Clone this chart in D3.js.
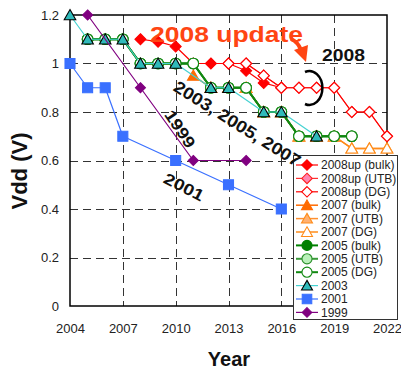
<!DOCTYPE html>
<html>
<head>
<meta charset="utf-8">
<script src="https://cdn.jsdelivr.net/npm/d3@7"></script>
<style>
  body { margin: 0; background: #fff; }
  svg { display: block; font-family: Arial, "Liberation Sans", sans-serif; }
</style>
</head>
<body>
<svg id="chart" width="401" height="372"></svg>
<script>
// Axis ticks
const xTicks = [2004, 2007, 2010, 2013, 2016, 2019, 2022];
const yTicks = [0, 0.2, 0.4, 0.6, 0.8, 1, 1.2];
const yTickLabels = ["0", "0.2", "0.4", "0.6", "0.8", "1", "1.2"];

// 2008 update
const years2008upBulk = [2008, 2009, 2010, 2011, 2012, 2013, 2014, 2015, 2016];
const vdd2008upBulk   = [1.1, 1.09, 1.07, 1.0, 1.0, 1.0, 0.97, 0.92, 0.9];
const years2008upUTB  = [2013, 2014, 2015, 2016, 2017, 2018, 2019, 2020, 2021, 2022];
const vdd2008upUTB    = [1.0, 1.0, 0.95, 0.9, 0.9, 0.9, 0.9, 0.8, 0.8, 0.7];
const years2008upDG   = [2013, 2014, 2015, 2016, 2017, 2018, 2019, 2020, 2021, 2022];
const vdd2008upDG     = [1.0, 1.0, 0.95, 0.9, 0.9, 0.9, 0.9, 0.8, 0.8, 0.7];

// 2007 roadmap
const years2007Bulk = [2011, 2012, 2013, 2014, 2015, 2016, 2017, 2018, 2019];
const vdd2007Bulk   = [0.95, 0.9, 0.9, 0.9, 0.8, 0.8, 0.7, 0.7, 0.7];
const years2007UTB  = [2012, 2013, 2014, 2015, 2016, 2017, 2018, 2019, 2020, 2021, 2022];
const vdd2007UTB    = [0.9, 0.9, 0.9, 0.8, 0.8, 0.7, 0.7, 0.7, 0.65, 0.65, 0.65];
const years2007DG   = [2012, 2013, 2014, 2015, 2016, 2017, 2018, 2019, 2020, 2021, 2022];
const vdd2007DG     = [0.9, 0.9, 0.9, 0.8, 0.8, 0.7, 0.7, 0.7, 0.65, 0.65, 0.65];

// 2005 roadmap
const years2005 = [2005, 2006, 2007, 2008, 2009, 2010, 2011, 2012, 2013, 2014, 2015, 2016, 2017, 2018, 2019, 2020];
const vdd2005Bulk = [1.1, 1.1, 1.1, 1.0, 1.0, 1.0, 1.0, 0.9, 0.9, 0.9, 0.8, 0.8, 0.7, 0.7, 0.7, 0.7];
const vdd2005UTB  = [1.1, 1.1, 1.1, 1.0, 1.0, 1.0, 1.0, 0.9, 0.9, 0.9, 0.8, 0.8, 0.7, 0.7, 0.7, 0.7];
const vdd2005DG   = [1.1, 1.1, 1.1, 1.0, 1.0, 1.0, 1.0, 0.9, 0.9, 0.9, 0.8, 0.8, 0.7, 0.7, 0.7, 0.7];

// 2003, 2001, 1999 roadmaps
const years2003 = [2004, 2005, 2006, 2007, 2008, 2009, 2010, 2012, 2013, 2015, 2016, 2018];
const vdd2003   = [1.2, 1.1, 1.1, 1.1, 1.0, 1.0, 1.0, 0.9, 0.9, 0.8, 0.8, 0.7];
const years2001 = [2004, 2005, 2006, 2007, 2010, 2013, 2016];
const vdd2001   = [1.0, 0.9, 0.9, 0.7, 0.6, 0.5, 0.4];
const years1999 = [2005, 2008, 2011, 2014];
const vdd1999   = [1.2, 0.9, 0.6, 0.6];

const zip = (xs, ys) => xs.map((x, i) => [x, ys[i]]);

// Drawing order follows the legend: later series sit on top
const series = [
  { name: "2008up (bulk)", data: zip(years2008upBulk, vdd2008upBulk), line: "#ff0000", lw: 1.2, shape: "diamond", fill: "#ff0000", stroke: "#ff0000", size: 5.5 },
  { name: "2008up (UTB)",  data: zip(years2008upUTB, vdd2008upUTB),   line: "#ff3030", lw: 1.2, shape: "diamond", fill: "#ff85b0", stroke: "#ff2020", size: 5.5 },
  { name: "2008up (DG)",   data: zip(years2008upDG, vdd2008upDG),     line: "#ff0000", lw: 1.2, shape: "diamond", fill: "#ffffff", stroke: "#ff0000", size: 5.5 },
  { name: "2007 (bulk)",   data: zip(years2007Bulk, vdd2007Bulk),     line: "#ff6a00", lw: 1.5, shape: "triangle", fill: "#ff6a00", stroke: "#ff6a00", size: 5.5 },
  { name: "2007 (UTB)",    data: zip(years2007UTB, vdd2007UTB),       line: "#ff9030", lw: 1.5, shape: "triangle", fill: "#ffb070", stroke: "#ff8c1a", size: 5.5 },
  { name: "2007 (DG)",     data: zip(years2007DG, vdd2007DG),         line: "#ff8c1a", lw: 1.5, shape: "triangle", fill: "#ffffff", stroke: "#ff8c1a", size: 5.5 },
  { name: "2005 (bulk)",   data: zip(years2005, vdd2005Bulk),         line: "#008000", lw: 2,   shape: "circle", fill: "#008000", stroke: "#008000", size: 5.3 },
  { name: "2005 (UTB)",    data: zip(years2005, vdd2005UTB),          line: "#3a9a3a", lw: 2,   shape: "circle", fill: "#b8f0b8", stroke: "#2a902a", size: 5.3 },
  { name: "2005 (DG)",     data: zip(years2005, vdd2005DG),           line: "#108810", lw: 2,   shape: "circle", fill: "#ffffff", stroke: "#108810", size: 5.3 },
  { name: "2003",          data: zip(years2003, vdd2003),             line: "#45d2d2", lw: 1.2, shape: "triangle", fill: "#30baba", stroke: "#000000", size: 5.5 },
  { name: "2001",          data: zip(years2001, vdd2001),             line: "#3a70ff", lw: 1.2, shape: "square", fill: "#3a70ff", stroke: "#3a70ff", size: 5 },
  { name: "1999",          data: zip(years1999, vdd1999),             line: "#800080", lw: 1.2, shape: "diamond", fill: "#800080", stroke: "#800080", size: 5 }
];

const svg = d3.select("#chart");
const x = d3.scaleLinear().domain([2004, 2022]).range([70, 387]);
const y = d3.scaleLinear().domain([0, 1.2]).range([306, 15]);

// Dashed grid
const grid = svg.append("g").attr("stroke", "#333").attr("stroke-width", 1).attr("stroke-dasharray", "8,5");
grid.selectAll("line.h").data(yTicks.filter(v => v > 0 && v < 1.2)).join("line")
  .attr("x1", x(2004)).attr("x2", x(2022))
  .attr("y1", d => Math.round(y(d)) + 0.5).attr("y2", d => Math.round(y(d)) + 0.5);
grid.selectAll("line.v").data(xTicks.filter(v => v > 2004 && v < 2022)).join("line")
  .attr("y1", y(1.2)).attr("y2", y(0))
  .attr("x1", d => Math.round(x(d)) + 0.5).attr("x2", d => Math.round(x(d)) + 0.5);

// Plot frame
svg.append("rect")
  .attr("x", x(2004)).attr("y", y(1.2))
  .attr("width", x(2022) - x(2004)).attr("height", y(0) - y(1.2))
  .attr("fill", "none").attr("stroke", "#000").attr("stroke-width", 1.5);

// Axes (labels only, no tick marks)
const xAxis = d3.axisBottom(x).tickValues(xTicks).tickFormat(d3.format("d")).tickSize(0).tickPadding(18);
svg.append("g").attr("transform", `translate(0,${y(0)})`).call(xAxis)
  .call(g => g.select(".domain").remove())
  .selectAll("text").attr("font-size", 13).attr("fill", "#222").attr("font-family", "Arial, 'Liberation Sans', sans-serif");
const yAxis = d3.axisLeft(y).tickValues(yTicks).tickFormat((d, i) => yTickLabels[i]).tickSize(0).tickPadding(11);
svg.append("g").attr("transform", `translate(${x(2004)},0)`).call(yAxis)
  .call(g => g.select(".domain").remove())
  .selectAll("text").attr("font-size", 13).attr("fill", "#222").attr("font-family", "Arial, 'Liberation Sans', sans-serif");

// Axis titles
svg.append("text").attr("x", 229).attr("y", 366).attr("text-anchor", "middle")
  .attr("font-size", 20).attr("font-weight", "bold").attr("fill", "#111").text("Year");
svg.append("text").attr("transform", "translate(27,171) rotate(-90)").attr("text-anchor", "middle")
  .attr("font-size", 22).attr("font-weight", "bold").attr("fill", "#111").text("Vdd (V)");

// Marker paths
function markerPath(shape, s) {
  switch (shape) {
    case "diamond": return `M0,${-s}L${s},0L0,${s}L${-s},0Z`;
    case "square": return `M${-s},${-s}H${s}V${s}H${-s}Z`;
    case "triangle": return `M0,${-s}L${s * 1.05},${s * 0.85}L${-s * 1.05},${s * 0.85}Z`;
    case "circle": return d3.arc()({ innerRadius: 0, outerRadius: s, startAngle: 0, endAngle: 2 * Math.PI });
  }
}

const line = d3.line().x(d => x(d[0])).y(d => y(d[1]));
const plot = svg.append("g");
series.forEach(s => {
  const g = plot.append("g");
  g.append("path").datum(s.data).attr("d", line)
    .attr("fill", "none").attr("stroke", s.line).attr("stroke-width", s.lw).attr("stroke-linejoin", "round");
  g.selectAll("path.m").data(s.data).join("path")
    .attr("transform", d => `translate(${x(d[0])},${y(d[1])})`)
    .attr("d", markerPath(s.shape, s.size))
    .attr("fill", s.fill).attr("stroke", s.stroke).attr("stroke-width", 1.1);
});

// Legend
const lg = svg.append("g");
lg.append("rect").attr("x", 293.5).attr("y", 155.5).attr("width", 104).attr("height", 164)
  .attr("fill", "#fff").attr("stroke", "#333").attr("stroke-width", 1);
const rowY = i => 165 + i * 13.4;
series.forEach((s, i) => {
  const r = lg.append("g").attr("transform", `translate(0,${rowY(i)})`);
  r.append("line").attr("x1", 296).attr("x2", 318).attr("stroke", s.line).attr("stroke-width", s.lw);
  r.append("path").attr("transform", "translate(307,0)").attr("d", markerPath(s.shape, s.size * 0.95))
    .attr("fill", s.fill).attr("stroke", s.stroke).attr("stroke-width", 1.1);
  r.append("text").attr("x", 321).attr("dy", "0.35em").attr("font-size", 12).attr("fill", "#222").text(s.name);
});

// Annotations
const ann = svg.append("g").attr("font-weight", "bold");
ann.append("text").attr("x", 150).attr("y", 42).attr("font-size", 22)
  .attr("textLength", 153).attr("lengthAdjust", "spacingAndGlyphs")
  .attr("fill", "#ff4512").text("2008 update");
ann.append("path").attr("d", "M291,39 Q298,42 301,50")
  .attr("fill", "none").attr("stroke", "#ff4512").attr("stroke-width", 4);
ann.append("path").attr("d", "M294,50 L308,45 L306,62 Z").attr("fill", "#ff4512");
ann.append("text").attr("x", 322).attr("y", 61).attr("font-size", 16)
  .attr("textLength", 43).attr("lengthAdjust", "spacingAndGlyphs")
  .attr("fill", "#111").text("2008");
ann.append("path").attr("d", "M305,72 A13,17 0 1,1 305,104")
  .attr("fill", "none").attr("stroke", "#000").attr("stroke-width", 2.5);

function rotLabel(cx, cy, angle, len, size, txt) {
  ann.append("text").attr("transform", `translate(${cx},${cy}) rotate(${angle})`)
    .attr("text-anchor", "middle").attr("dominant-baseline", "central")
    .attr("font-size", size).attr("textLength", len).attr("lengthAdjust", "spacingAndGlyphs")
    .attr("fill", "#111").text(txt);
}
rotLabel(237, 124, 32, 146, 17, "2003, 2005, 2007");
rotLabel(180, 129, 56, 42, 16, "1999");
rotLabel(184, 187, 27, 43, 16, "2001");
</script>
</body>
</html>
